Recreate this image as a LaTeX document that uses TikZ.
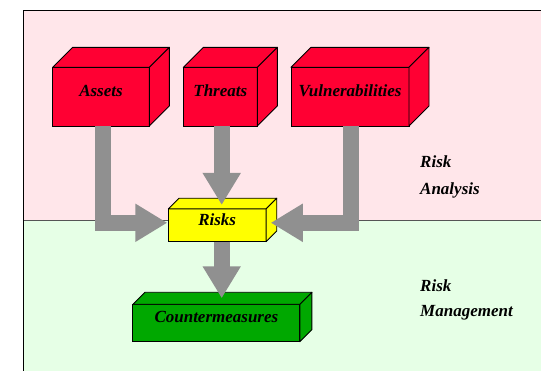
\documentclass[tikz,border=0pt]{standalone}
\usepackage{fontspec}
\setmainfont{Liberation Serif}
\usetikzlibrary{arrows.meta,calc}

\definecolor{analysisbg}{RGB}{255,230,234}
\definecolor{managebg}{RGB}{230,255,230}
\definecolor{boxred}{RGB}{255,0,51}
\definecolor{boxyellow}{RGB}{255,255,0}
\definecolor{boxgreen}{RGB}{0,168,0}
\definecolor{arrowgray}{RGB}{144,144,144}
\definecolor{divider}{RGB}{85,85,85}

% top and right faces of a box whose front face is node #1
\newcommand\cubefaces[3]{%
  \filldraw[fill=#3, draw=black, line width=0.9pt, line join=round]
    (#1.north west) -- ++(#2,-#2) -- ($(#1.north east)+(#2,-#2)$) -- (#1.north east) -- cycle;
  \filldraw[fill=#3, draw=black, line width=0.9pt, line join=round]
    (#1.north east) -- ++(#2,-#2) -- ($(#1.south east)+(#2,-#2)$) -- (#1.south east) -- cycle;
}

\tikzset{
  cubefront/.style={draw=black, line width=0.9pt, inner sep=0pt, outer sep=0pt,
    text height=6pt, text depth=6pt, align=center,
    font=\fontsize{17}{20}\selectfont\bfseries\itshape},
  sidelabel/.style={anchor=base west, inner sep=0pt,
    font=\fontsize{17}{20}\selectfont\bfseries\itshape},
  flow/.style={draw=arrowgray, line width=16pt, line join=miter,
    -{Triangle[length=32pt,width=36pt]}},
}

\begin{document}
\begin{tikzpicture}[x=1pt,y=-1pt]
  \useasboundingbox (0,0) rectangle (541,371);
  \clip (0,0) rectangle (541,371);

  % the two regions of the frame
  \fill[analysisbg] (23.5,10.5) rectangle (545,220.7);
  \fill[managebg] (23.5,220.7) rectangle (545,375);
  \draw[divider, line width=1.3pt] (23.5,220.7) -- (545,220.7);
  \draw[black, line width=1.5pt] (23.5,375) -- (23.5,10.5) -- (545,10.5);

  % source boxes
  \node[cubefront, fill=boxred, minimum width=96.6pt, minimum height=58.7pt]
    (assets) at (101,96.7) {Assets};
  \cubefaces{assets}{20}{boxred}
  \node[cubefront, fill=boxred, minimum width=74pt, minimum height=58.7pt]
    (threats) at (220.3,96.7) {Threats};
  \cubefaces{threats}{20}{boxred}
  \node[cubefront, fill=boxred, minimum width=118pt, minimum height=58.7pt]
    (vuln) at (350,96.7) {Vulnerabilities};
  \cubefaces{vuln}{20}{boxred}

  % risks
  \node[cubefront, fill=boxyellow, minimum width=97.7pt, minimum height=32.7pt]
    (risks) at (217.2,225.3) {Risks};
  \cubefaces{risks}{10.7}{boxyellow}

  % countermeasures
  \node[cubefront, fill=boxgreen, minimum width=167pt, minimum height=37.4pt]
    (cm) at (216.4,323) {Countermeasures};
  \cubefaces{cm}{12}{boxgreen}

  % flows
  \draw[flow] ($(assets.south)+(2,0)$) |- ($(risks.west)+(-1,-2.5)$);
  \draw[flow] ($(vuln.south)+(1,0)$) |- ($(risks.east)+(4.7,-2.5)$);
  \draw[flow] ($(threats.south)+(1.4,0)$) -- ($(threats.south |- risks.north)+(1.4,-4)$);
  \draw[flow] ($(risks.south)+(4.5,0)$) -- ($(risks.south |- cm.north)+(4.5,-6)$);

  % region labels
  \node[sidelabel] (ra1) at (420,168) {Risk};
  \node[sidelabel] (ra2) at (420,195) {Analysis};
  \node[sidelabel] (rm1) at (420,291.3) {Risk};
  \node[sidelabel] (rm2) at (420,317) {Management};
\end{tikzpicture}
\end{document}
